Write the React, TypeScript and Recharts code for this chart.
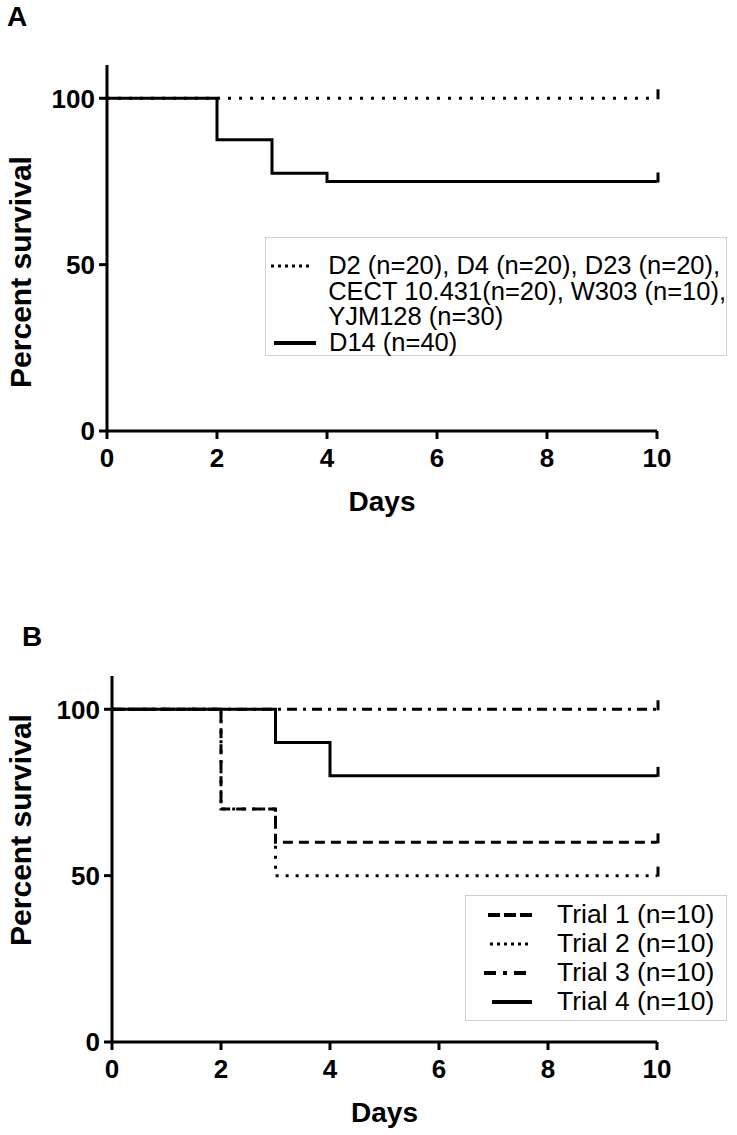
import React from 'react';
import { LineChart, Line, XAxis, YAxis } from 'recharts';

// ---------- data ----------
const xTicks = [0, 2, 4, 6, 8, 10];
const yTicks = [0, 50, 100];

// Panel A
const aDays = [0, 2, 3, 4, 10];
const aPooled = [100, 100, 100, 100, 100];
const aD14 = [100, 87.5, 77.5, 75, 75];
const aLabels = [
  ['D2 (n=20), D4 (n=20), D23 (n=20),', 'CECT 10.431(n=20), W303 (n=10),', 'YJM128 (n=30)'],
  ['D14 (n=40)'],
];

// Panel B
const bDays = [0, 2, 3, 4, 10];
const bTrial1 = [100, 70, 60, 60, 60];
const bTrial2 = [100, 70, 50, 50, 50];
const bTrial3 = [100, 100, 100, 100, 100];
const bTrial4 = [100, 100, 90, 80, 80];
const bLabels = ['Trial 1 (n=10)', 'Trial 2 (n=10)', 'Trial 3 (n=10)', 'Trial 4 (n=10)'];

const aData = aDays.map((d, i) => ({ day: d, pooled: aPooled[i], d14: aD14[i] }));
const bData = bDays.map((d, i) => ({ day: d, t1: bTrial1[i], t2: bTrial2[i], t3: bTrial3[i], t4: bTrial4[i] }));

const FONT = '"Liberation Sans", Arial, Helvetica, sans-serif';
const DOT_A = '3 8';
const DOT_B = '3 7';
const DASH = '10 6';
const DASHDOT = '10 6 3 6';

// legend sample patterns (finer than in the plot, as in the reference)
const L_DOT = '3 4';
const L_DASH = '12 4';
const L_DASHDOT = '12 7 4 7';

const censor = (last: number) => (props: any) => {
  const { cx, cy, index } = props;
  if (index !== last || cx == null || cy == null) return <g key={`c-${index}`} />;
  return <line key={`c-${index}`} x1={cx + 1} x2={cx + 1} y1={cy + 1} y2={cy - 9} stroke="#000" strokeWidth={3} />;
};

const tickStyle = { fontSize: 26, fontWeight: 700, fill: '#000', fontFamily: FONT };

const yLabel = (cy: number) => (props: any) => (
  <text
    x={31}
    y={cy}
    transform={`rotate(-90, 31, ${cy})`}
    textAnchor="middle"
    fontSize={30}
    fontWeight={700}
    fontFamily={FONT}
    fill="#000"
  >
    Percent survival
  </text>
);

const xLabel = (props: any) => {
  const vb = props.viewBox || {};
  return (
    <text
      x={vb.x + vb.width / 2}
      y={vb.y + 80}
      textAnchor="middle"
      fontSize={28}
      fontWeight={700}
      fontFamily={FONT}
      fill="#000"
    >
      Days
    </text>
  );
};

const Sym = ({ dash, w = 44, sw = 4 }: { dash?: string; w?: number; sw?: number }) => (
  <svg width={w} height={10} style={{ display: 'block' }}>
    <line x1={0} x2={w} y1={5} y2={5} stroke="#000" strokeWidth={sw} strokeDasharray={dash} />
  </svg>
);

const LegendA = () => (
  <div
    style={{
      position: 'absolute',
      left: 265,
      top: 237,
      width: 462,
      height: 119,
      boxSizing: 'border-box',
      border: '1.5px solid #cfcfcf',
      background: '#fff',
      fontFamily: FONT,
      fontSize: 25.5,
      lineHeight: '25.5px',
      color: '#000',
      paddingTop: 15,
    }}
  >
    {aLabels.map((lines, i) => (
      <div key={i} style={{ display: 'flex', alignItems: 'flex-start' }}>
        <div style={{ width: 63, paddingLeft: i === 0 ? 5 : 8, paddingTop: 8, boxSizing: 'border-box' }}>
          {i === 0 ? <Sym dash={L_DOT} w={41} sw={3} /> : <Sym w={42} sw={4} />}
        </div>
        <div>
          {lines.map((l, j) => (
            <div key={j} style={{ whiteSpace: 'nowrap' }}>{l}</div>
          ))}
        </div>
      </div>
    ))}
  </div>
);

const bDashes = [L_DASH, L_DOT, L_DASHDOT, undefined];
const bWidths = [44, 41, 42, 40];
const bPad = [22, 24, 18, 26];
const LegendB = () => (
  <div
    style={{
      position: 'absolute',
      left: 465,
      top: 895,
      width: 262,
      height: 126,
      boxSizing: 'border-box',
      border: '1.5px solid #cfcfcf',
      background: '#fff',
      fontFamily: FONT,
      fontSize: 26.5,
      lineHeight: '29px',
      color: '#000',
      paddingTop: 4,
    }}
  >
    {bLabels.map((l, i) => (
      <div key={i} style={{ display: 'flex', alignItems: 'center' }}>
        <div style={{ width: 91, paddingLeft: bPad[i], boxSizing: 'border-box' }}>
          <Sym dash={bDashes[i]} w={bWidths[i]} sw={bDashes[i] === L_DOT ? 3 : 4} />
        </div>
        <div style={{ whiteSpace: 'nowrap' }}>{l}</div>
      </div>
    ))}
  </div>
);

const axisLine = { stroke: '#000', strokeWidth: 3 };

export default function App() {
  return (
    <div style={{ position: 'absolute', left: 0, top: 0, width: 737, height: 1135, background: '#fff' }}>
      <div style={{ position: 'absolute', left: 7, top: 0, fontFamily: FONT, fontWeight: 700, fontSize: 28, lineHeight: '34px' }}>A</div>
      <div style={{ position: 'absolute', left: 22, top: 620, fontFamily: FONT, fontWeight: 700, fontSize: 28, lineHeight: '34px' }}>B</div>

      <div style={{ position: 'absolute', left: 0, top: 0 }}>
        <LineChart width={737} height={540} data={aData} margin={{ top: 65, right: 80, bottom: 40, left: 0 }}>
          <XAxis
            dataKey="day"
            type="number"
            domain={[0, 10]}
            ticks={xTicks}
            height={69}
            tickSize={8}
            tickMargin={10}
            tick={tickStyle}
            axisLine={axisLine}
            tickLine={axisLine}
            label={xLabel}
          />
          <YAxis
            type="number"
            domain={[0, 110]}
            ticks={yTicks}
            width={107}
            tickSize={8}
            tickMargin={4}
            tick={tickStyle}
            axisLine={axisLine}
            tickLine={axisLine}
            label={yLabel(272)}
          />
          <Line dataKey="pooled" type="stepAfter" stroke="#000" strokeWidth={3} strokeDasharray={DOT_A} dot={censor(aDays.length - 1)} isAnimationActive={false} />
          <Line dataKey="d14" type="stepAfter" stroke="#000" strokeWidth={3} dot={censor(aDays.length - 1)} isAnimationActive={false} />
        </LineChart>
      </div>

      <div style={{ position: 'absolute', left: 0, top: 611 }}>
        <LineChart width={737} height={520} data={bData} margin={{ top: 65, right: 80, bottom: 20, left: 0 }}>
          <XAxis
            dataKey="day"
            type="number"
            domain={[0, 10]}
            ticks={xTicks}
            height={69}
            tickSize={8}
            tickMargin={10}
            tick={tickStyle}
            axisLine={axisLine}
            tickLine={axisLine}
            label={xLabel}
          />
          <YAxis
            type="number"
            domain={[0, 110]}
            ticks={yTicks}
            width={112}
            tickSize={8}
            tickMargin={4}
            tick={tickStyle}
            axisLine={axisLine}
            tickLine={axisLine}
            label={yLabel(219)}
          />
          <Line dataKey="t1" type="stepAfter" stroke="#000" strokeWidth={3} strokeDasharray={DASH} dot={censor(bDays.length - 1)} isAnimationActive={false} />
          <Line dataKey="t2" type="stepAfter" stroke="#000" strokeWidth={3} strokeDasharray={DOT_B} dot={censor(bDays.length - 1)} isAnimationActive={false} />
          <Line dataKey="t3" type="stepAfter" stroke="#000" strokeWidth={3} strokeDasharray={DASHDOT} dot={censor(bDays.length - 1)} isAnimationActive={false} />
          <Line dataKey="t4" type="stepAfter" stroke="#000" strokeWidth={3} dot={censor(bDays.length - 1)} isAnimationActive={false} />
        </LineChart>
      </div>

      <LegendA />
      <LegendB />
    </div>
  );
}
